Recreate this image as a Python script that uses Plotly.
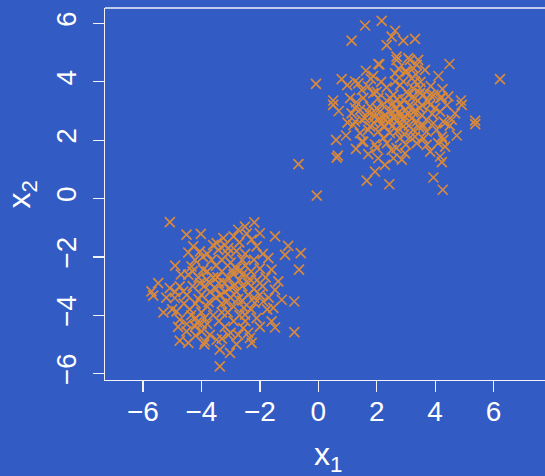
import plotly.graph_objects as go

# ---- data ----
upper_x = [1.60, 2.17, 1.14, 2.63, 2.51, 2.34, 2.68, 2.05, 1.63, 1.88, -0.08, 0.80, 0.99, 1.37, 1.49, 1.71, 0.51, 1.09, 1.88, 2.05, 2.34, 2.63, 2.63, 2.46,
           2.91, 3.31, 3.14, 3.42, 3.03, 3.25, 3.65, 4.49, 4.11, 6.22, 2.91, 3.31, 3.48, 3.03, 3.25, 3.60, 3.94, 4.23, 4.88, 2.91, 3.77,
           -0.68, -0.05, 0.61, 0.95, 0.63, 0.67, 1.29, 1.49, 1.20, 1.14, 1.26, 1.49, 1.71, 1.94, 2.05, 2.28, 1.94, 1.66, 2.43, 2.57, 2.68, 1.71, 2.05, 1.88, 0.51,
           5.37, 5.37, 4.68, 4.57, 4.34, 4.74, 4.28, 3.71, 3.31, 2.97, 2.86, 4.17, 4.23, 3.94, 4.26, 4.91,
           2.09, 2.68, 3.08, 3.37, 2.97, 1.26, 2.80, 3.20, 3.25, 3.48, 2.57, 3.83, 4.17, 1.54, 2.00, 1.43, 1.77, 2.11, 2.46, 2.80, 3.14, 3.48, 3.83, 4.17,
           1.26, 1.60, 1.94, 2.23, 2.46, 2.68, 2.97, 3.37, 3.71, 3.94, 4.28, 2.28, 1.77, 2.91, 3.25, 3.71, 1.43, 1.54, 2.23, 2.80, 3.37, 4.23, 2.00, 2.51, 3.83, 4.34,
           2.30, 2.50, 2.60, 2.75, 2.90, 3.05, 3.20, 2.40, 2.55, 2.85, 3.10, 3.30, 2.20, 2.65, 3.00, 3.55, 3.60, 2.15, 2.00, 3.40, 2.70, 3.10, 2.35, 3.90, 4.00,
           3.55, 2.95, 2.45, 3.15, 1.90, 2.80, 2.55, 3.25, 2.10, 3.45, 2.70, 2.35, 3.00, 3.60, 1.70, 4.40, 4.50, 4.05, 4.10, 3.35, 2.75, 3.50, 3.85, 2.15, 1.80,
           4.45, 4.25, 1.30, 0.70, 1.00]
upper_y = [5.93, 6.09, 5.41, 5.75, 5.55, 5.26, 4.86, 4.61, 4.38, 4.20, 3.93, 4.09, 3.89, 3.95, 3.72, 3.84, 3.36, 3.44, 3.61, 3.44, 3.81, 4.29, 4.01, 3.44,
           5.41, 5.47, 4.75, 4.75, 4.35, 4.47, 4.41, 4.61, 4.20, 4.09, 4.01, 4.01, 3.78, 3.66, 3.49, 3.55, 3.55, 3.47, 3.36, 3.38, 3.32,
           1.18, 0.10, 2.01, 2.16, 1.40, 1.47, 1.70, 1.95, 2.52, 2.92, 3.10, 2.70, 1.52, 1.86, 1.38, 1.15, 0.92, 0.61, 0.49, 1.38, 1.73, 2.35, 2.29, 2.87, 3.21,
           2.67, 2.55, 2.92, 2.70, 2.58, 2.16, 2.01, 1.84, 2.12, 1.55, 1.33, 1.44, 1.25, 0.72, 0.30, 3.21,
           4.60, 4.75, 4.81, 4.58, 4.35, 4.01, 3.89, 4.12, 3.78, 3.61, 3.55, 3.55, 3.44, 3.44, 3.66, 3.04, 3.15, 2.98, 3.04, 3.21, 3.21, 3.10, 3.21, 2.98,
           2.64, 2.75, 2.81, 2.75, 2.70, 2.64, 2.81, 2.64, 2.70, 2.58, 2.64, 2.47, 2.47, 2.47, 2.35, 2.29, 2.24, 1.95, 2.07, 2.07, 1.90, 2.12, 1.73, 1.67, 1.61, 1.78,
           2.85, 2.90, 2.75, 2.95, 2.70, 2.90, 2.75, 2.60, 2.50, 2.55, 2.50, 3.00, 3.20, 3.10, 3.05, 2.85, 2.50, 2.55, 3.10, 3.35, 3.40, 3.55, 3.35, 2.90, 3.10,
           3.20, 2.20, 2.25, 2.10, 2.60, 2.85, 3.25, 2.95, 2.75, 2.45, 2.30, 1.90, 1.85, 2.05, 2.95, 3.20, 2.50, 2.35, 1.90, 4.25, 4.45, 4.00, 3.85, 4.00, 4.10,
           3.50, 3.75, 3.30, 3.00, 2.60]

lower_x = [-5.08, -4.51, -4.02, -4.28, -4.05, -4.45, -4.22, -3.65, -3.48, -3.25, -3.08, -3.42, -4.34, -3.94, -4.45, -5.48, -5.71, -5.08, -4.74, -4.62, -4.05, -3.82,
           -2.19, -2.51, -2.00, -1.48, -1.03, -1.14, -0.60, -0.66, -1.71, -1.60, -2.74, -2.28, -2.11, -1.37, -1.48,
           -5.65, -4.74, -4.45, -3.88, -3.37, -3.02, -3.37, -4.91, -4.85, -4.74, -4.51, -4.22, -3.99, -3.71, -3.48, -3.08,
           -1.25, -0.82, -1.54, -1.60, -1.48, -0.82, -2.34, -2.28, -2.11, -2.57, -2.74, -2.51, -2.17, -1.88,
           -3.0, -2.8, -2.6, -2.5, -2.3, -2.7, -2.9, -3.1, -3.3, -3.5, -3.4, -3.2, -3.0, -2.8, -2.6, -2.4, -2.2, -2.4, -2.6, -2.9,
           -3.1, -3.3, -3.5, -3.7, -3.9, -3.6, -3.8, -4.1, -4.3, -4.0, -4.2, -4.4, -4.0, -3.8, -3.6, -3.4, -3.2, -2.9, -2.7, -2.3,
           -2.0, -2.1, -2.0, -2.2, -2.5, -2.8, -3.1, -3.3, -2.6, -2.9, -3.2, -3.5, -3.7, -4.2, -4.0, -3.8, -4.5, -4.6, -4.5, -4.3,
           -2.7, -2.9, -3.6, -3.8, -1.9, -1.8, -1.9, -1.7, -2.0, -2.4, -3.0, -3.3, -2.8, -4.2, -3.9, -4.8, -5.0, -4.9, -5.2, -5.3,
           -4.7, -4.9, -3.95, -3.2, -2.45, -2.35, -2.75, -3.05, -3.45, -2.55, -3.15, -2.85, -3.35, -2.65, -2.95, -3.75, -4.1, -3.9, -4.35, -4.15,
           -3.3, -2.2, -2.5, -1.75]
lower_y = [-0.81, -1.24, -1.21, -1.64, -1.81, -1.85, -2.10, -2.10, -1.53, -1.36, -1.70, -1.76, -2.33, -2.44, -2.61, -2.90, -3.18, -3.07, -3.01, -3.18, -2.90, -2.78,
           -0.82, -0.96, -1.19, -1.30, -1.62, -1.93, -1.87, -2.44, -2.04, -2.44, -1.07, -1.41, -1.64, -2.84, -3.13,
           -3.33, -4.87, -4.95, -4.90, -5.18, -5.29, -5.75, -3.41, -3.87, -4.15, -4.55, -4.38, -4.55, -4.67, -4.84, -4.67,
           -3.47, -3.53, -3.75, -4.21, -4.42, -4.58, -4.78, -4.95, -4.10, -4.44, -4.67, -3.98, -3.58, -3.53,
           -2.2, -2.4, -2.6, -2.3, -2.5, -2.8, -3.0, -2.7, -2.5, -2.3, -2.9, -3.2, -3.4, -3.2, -3.0, -2.9, -3.1, -3.3, -3.5, -3.7,
           -3.9, -3.6, -3.4, -3.2, -3.0, -2.7, -2.5, -2.7, -3.0, -3.3, -3.6, -3.8, -3.9, -3.7, -4.0, -4.2, -4.4, -4.2, -4.0, -3.8,
           -3.3, -2.8, -2.4, -2.1, -1.9, -1.8, -1.9, -2.1, -2.1, -2.6, -2.9, -3.1, -2.9, -4.1, -4.3, -4.3, -4.3, -3.6, -3.3, -2.5,
           -1.5, -1.3, -1.6, -1.9, -1.9, -2.7, -3.0, -3.4, -4.4, -4.6, -4.6, -4.8, -5.0, -4.7, -5.0, -4.4, -3.8, -3.2, -3.4, -3.9,
           -2.6, -2.3, -2.0, -1.6, -1.2, -2.75, -3.45, -3.1, -2.7, -3.75, -3.55, -2.95, -3.3, -2.45, -2.45, -3.55, -3.45, -4.1, -4.0, -4.25,
           -3.9, -3.4, -4.2, -3.8]

x_ticks = [-6, -4, -2, 0, 2, 4, 6]
y_ticks = [-6, -4, -2, 0, 2, 4, 6]

BG = "#335BC4"
ORANGE = "#D8893B"
WHITE = "#F2F2FA"
FONT = "Liberation Sans, Arial, Helvetica, sans-serif"

fig = go.Figure()
fig.add_trace(go.Scatter(
    x=upper_x + lower_x, y=upper_y + lower_y, mode="markers",
    marker=dict(symbol="x-thin", size=10, color=ORANGE,
                line=dict(color=ORANGE, width=1.7)),
    hoverinfo="skip", showlegend=False))

axis_common = dict(showgrid=False, zeroline=False, showline=True, linecolor=WHITE,
                   linewidth=1.3, ticks="outside", ticklen=11, tickwidth=1.3,
                   tickcolor=WHITE, automargin=False,
                   tickfont=dict(family=FONT, size=28, color="white"))

fig.update_xaxes(range=[-7.30, 7.76], tickvals=x_ticks, ticklabelstandoff=-5, **axis_common)
fig.update_yaxes(range=[-6.22, 6.53], tickvals=y_ticks, tickangle=-90, ticklabelstandoff=6, **axis_common)

fig.add_shape(type="line", xref="paper", yref="paper", x0=0, x1=1, y0=1, y1=1,
              line=dict(color=WHITE, width=1.3))

fig.add_annotation(text="x<sub>1</sub>", xref="paper", yref="paper", x=0.506, y=-0.205,
                   xanchor="center", yanchor="middle", showarrow=False,
                   font=dict(family=FONT, size=32, color="white"))
fig.add_annotation(text="x<sub>2</sub>", xref="paper", yref="paper", x=-0.19, y=0.5,
                   xanchor="center", yanchor="middle", textangle=-90, showarrow=False,
                   font=dict(family=FONT, size=32, color="white"))

fig.update_layout(width=545, height=476, paper_bgcolor=BG, plot_bgcolor=BG,
                  margin=dict(l=105, r=0, t=8, b=96))

page_fix = ("document.documentElement.style.margin='0';"
            "document.body.style.margin='0';"
            "document.body.style.padding='0';"
            "document.body.style.overflow='hidden';"
            "document.documentElement.style.overflow='hidden';"
            "document.body.style.background='" + BG + "';")

fig.write_html("out.html", post_script=page_fix,
               config={"displayModeBar": False, "staticPlot": True})
